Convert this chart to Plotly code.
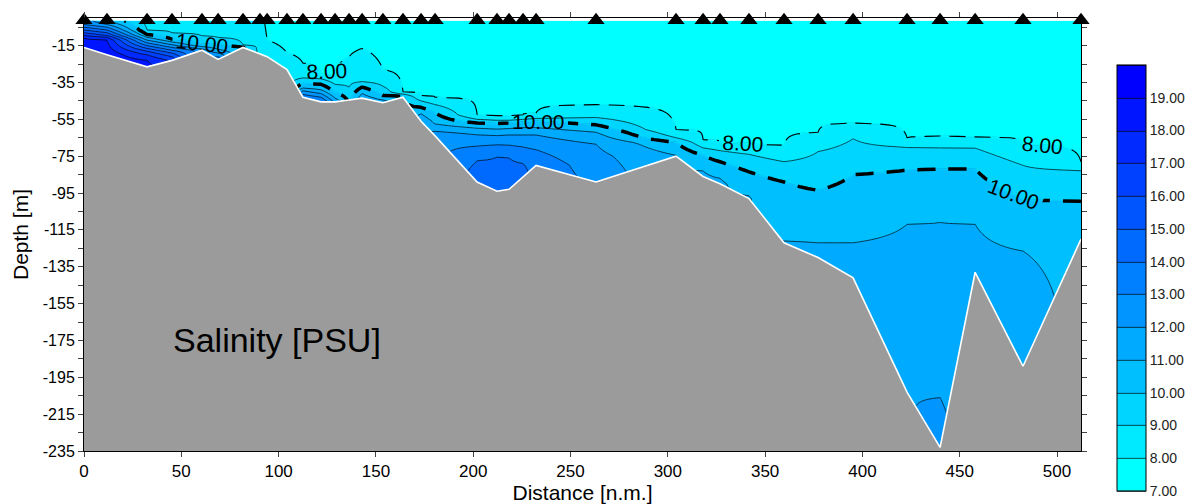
import numpy as np
import plotly.graph_objects as go

N = None
# Station positions (distance along section, nautical miles)
station_nm = [0.0, 11.8, 32.4, 45.2, 60.6, 68.9, 81.7, 90.4, 94.1, 104.3,
              112.5, 121.8, 129.0, 136.2, 142.9, 153.6, 163.9, 173.2, 180.4, 202.0,
              212.2, 218.4, 225.6, 232.3, 263.1, 304.2, 318.1, 326.8, 341.7, 359.7,
              377.2, 395.2, 422.9, 439.9, 457.9, 482.5, 512.3]
# Bottom depth at each station (m)
bottom_m = [16, 20, 26.5, 23, 17.5, 22.5, 16, 19.5, 21, 28,
            43, 45.5, 45.5, 44.5, 43.5, 46, 43, 56, 64, 89,
            94, 93, 86, 80, 89, 75, 86, 90, 98, 122,
            130, 141, 203, 233, 138, 189, 120]
# Salinity at the surface and at the bottom of each station (PSU)
surface_psu = [12.3, 10.6, 8.6, 8.5, 8.5, 8.5, 8.4, 8.3, 7.75, 7.5] + [7.4] * 27
bottom_psu = [18.8, 18.7, 18.4, 16.8, 12.5, 13.7, 10.1, 8.8, 8.5, 8.6,
              13.7, 14.1, 11.8, 9.8, 11.6, 11.6, 10.2, 11.8, 12.8, 14.7,
              14.8, 14.8, 14.3, 13.7, 12.8, 11.05, 11.15, 11.15, 11.05, 11.05,
              11.3, 11.5, 11.97, 12.5, 11.3, 11.6, 10.8]
# Depth (m) of each isohaline at each station (None = not present)
iso8 = [N, N, N, N, N, N, N, N, 12, 19,
        24.5, 30.5, 31, 21, 16.5, 28, 40, 42.3, 43, 52.5,
        53, 53, 52.5, 51.5, 47, 60.5, 66, 67.5, 68.5, 69.5,
        62, 57, 65, 64.3, 64.5, 68.5, 78]
iso9 = [N, N, 6.5, 8, 9.7, 10.5, 14.5, N, N, N,
        32.5, 33, 36, 37.5, 34.5, 37, 41.3, 45, 47, 55,
        55.5, 55.5, 55, 54.5, 54, 65, 70.5, 72, 74, 78,
        72.5, 65.5, 70.2, 70.5, 70.6, 80, 82.8]
iso10 = [N, N, 9, 11.5, 14.3, 14, 15.7, N, N, N,
         35.5, 36, 40.5, N, 37.5, 42, 42.5, 48.5, 51.5, 57,
         57.2, 57, 56.5, 56, 58, 67.5, 74.5, 78, 83.5, 89,
         93.5, 85, 82.5, 82, 82, 98.6, 99.5]
iso11 = [N, 1.5, 10.5, 13, 15.5, 17, N, N, N, N,
         38, 39, 43.5, N, 41, 44.5, N, 52, 57.5, 59.8,
         60.3, 60, 59.5, 59.5, 62, 74.5, 83, 87, 96.5, 121,
         122, 122, 112, 111, 112, 126.5, N]
iso12 = [N, 3.5, 12, 14.5, 16.8, 19, N, N, N, N,
         39.5, 41, N, N, N, N, N, N, 61.5, 63.4,
         63.8, 63.5, 63.5, 63.5, 68.5, N, N, N, N, N,
         N, N, N, 206, N, N, N]
iso13 = [3.5, 5, 13.5, 16, N, 21, N, N, N, N,
         41.5, 43, N, N, N, N, N, N, N, 69.5,
         68.8, 69, 70, 71.5] + [N] * 13
iso14 = [5, 6.5, 15, 17.5] + [N] * 15 + [77.5, 75.5, 76, 79] + [N] * 14
iso15 = [6.5, 8, 16.5, 19] + [N] * 33
iso16 = [8, 9.5, 18, 21] + [N] * 33
iso17 = [9.5, 10.5, 20] + [N] * 34
iso18 = [11, 12, 23] + [N] * 34
iso_levels = [8, 9, 10, 11, 12, 13, 14, 15, 16, 17, 18]

# Colour bands 7-8 ... 19-20
band_colors = ['#00FFFF', '#00EAFF', '#00D5FF', '#00BFFF', '#00AAFF', '#0095FF', '#0080FF',
               '#006AFF', '#0055FF', '#0040FF', '#002AFF', '#0015FF', '#0000FF']
cbar_ticks = [7, 8, 9, 10, 11, 12, 13, 14, 15, 16, 17, 18, 19]
x_ticks = [0, 50, 100, 150, 200, 250, 300, 350, 400, 450, 500]
y_ticks = [-5, -15, -25, -35, -45, -55, -65, -75, -85, -95, -105, -115, -125, -135,
           -145, -155, -165, -175, -185, -195, -205, -215, -225, -235]
y_ticklabels = ['' if (v + 5) % 20 == 0 else str(v) for v in y_ticks]

# ---- gridding of station profiles ----
iso_arrays = [iso8, iso9, iso10, iso11, iso12, iso13, iso14, iso15, iso16, iso17, iso18]
depth_grid = np.arange(1.5, 235.01, 0.5)
sal = np.empty((len(depth_grid), len(station_nm)))
for j in range(len(station_nm)):
    kd = [0.0]
    ks = [surface_psu[j]]
    for lev, arr in zip(iso_levels, iso_arrays):
        if arr[j] is not None:
            kd.append(arr[j])
            ks.append(lev)
    kd.append(bottom_m[j])
    ks.append(bottom_psu[j])
    sal[:, j] = np.interp(depth_grid, kd, ks)
ygrid = -depth_grid

nb = len(band_colors)
colorscale = []
for k, c in enumerate(band_colors):
    colorscale.append([k / nb, c])
    colorscale.append([(k + 1) / nb, c])

# page body has an 8px margin: figure is 1190x496 placed at (8, 8)
FIG_W, FIG_H = 1190, 496
ML, MR, MT, MB = 76, 117, 10, 53
plot_h = FIG_H - MT - MB

fig = go.Figure()
fig.add_trace(go.Contour(
    x=station_nm, y=ygrid, z=sal, zmin=7, zmax=20, autocontour=False,
    contours=dict(start=7, end=20, size=1, coloring='fill', showlines=True),
    line=dict(color='black', width=0.7, smoothing=0),
    colorscale=colorscale, hoverinfo='skip',
    colorbar=dict(x=1.036, xanchor='left', xpad=0, y=(plot_h + MT - 57) / plot_h, yanchor='top', ypad=0,
                  len=426, lenmode='pixels', thickness=29, thicknessmode='pixels',
                  outlinecolor='black', outlinewidth=1,
                  tickvals=cbar_ticks, ticktext=[f'{v:.2f}' for v in cbar_ticks],
                  ticks='', tickfont=dict(family='Arial', size=14, color='#222'))))

# cover the thin lines at 8 and 10, then draw dashed ones with labels
for lev, cover in [(8, '#00F4FF'), (10, '#00CAFF')]:
    fig.add_trace(go.Contour(
        x=station_nm, y=ygrid, z=sal, showscale=False, hoverinfo='skip', autocontour=False,
        contours=dict(start=lev, end=lev, size=1, coloring='none'),
        line=dict(color=cover, width=1.8, smoothing=0)))
# (extra far-out-of-range levels only make plotly place ~3 labels along the line)
for lev, width, dash in [(8, 1.1, '16px,9px'), (10, 3.5, '18px,13px')]:
    fig.add_trace(go.Contour(
        x=station_nm, y=ygrid, z=sal, showscale=False, hoverinfo='skip', autocontour=False,
        contours=dict(start=lev, end=lev + 54 * 20, size=20, coloring='none', showlabels=True,
                      labelformat='.2f', labelfont=dict(family='Arial', size=21, color='black')),
        line=dict(color='black', width=width, dash=dash, smoothing=0)))

# sea bed
fig.add_trace(go.Scatter(
    x=station_nm + [station_nm[-1], station_nm[0]],
    y=[-b for b in bottom_m] + [-235, -235],
    mode='lines', fill='toself', fillcolor='#9b9b9b', line=dict(width=0),
    hoverinfo='skip'))
fig.add_trace(go.Scatter(
    x=station_nm, y=[-b for b in bottom_m], mode='lines',
    line=dict(color='white', width=1.6), hoverinfo='skip'))

# stations
fig.add_trace(go.Scatter(
    x=station_nm, y=[-1.2] * len(station_nm), mode='markers',
    marker=dict(symbol='triangle-up', size=15, color='black', line=dict(width=0)),
    cliponaxis=False, hoverinfo='skip'))

fig.add_annotation(x=99, y=-175, xref='x', yref='y', text='Salinity [PSU]', showarrow=False,
                   font=dict(family='Arial', size=34, color='black'))

fig.update_layout(
    width=FIG_W, height=FIG_H, margin=dict(l=ML, r=MR, t=MT, b=MB, autoexpand=False),
    plot_bgcolor='white', paper_bgcolor='white', showlegend=False,
    font=dict(family='Arial', color='black'),
    xaxis=dict(range=[0, 512.3], tickvals=x_ticks, ticks='outside', ticklen=5, tickwidth=1,
               mirror='ticks', showline=True, linecolor='black', linewidth=1, automargin=False,
               showgrid=False, zeroline=False, tickfont=dict(size=17),
               title=dict(text='Distance [n.m.]', font=dict(size=21), standoff=2)),
    yaxis=dict(range=[-235, 0], tickvals=y_ticks, ticktext=y_ticklabels, ticks='outside',
               ticklen=5, tickwidth=1, mirror='ticks', showline=True, linecolor='black',
               linewidth=1, showgrid=False, zeroline=False, tickfont=dict(size=16), automargin=False,
               title=dict(text='Depth [m]', font=dict(size=21), standoff=8)),
)

fig.write_html('out.html')
